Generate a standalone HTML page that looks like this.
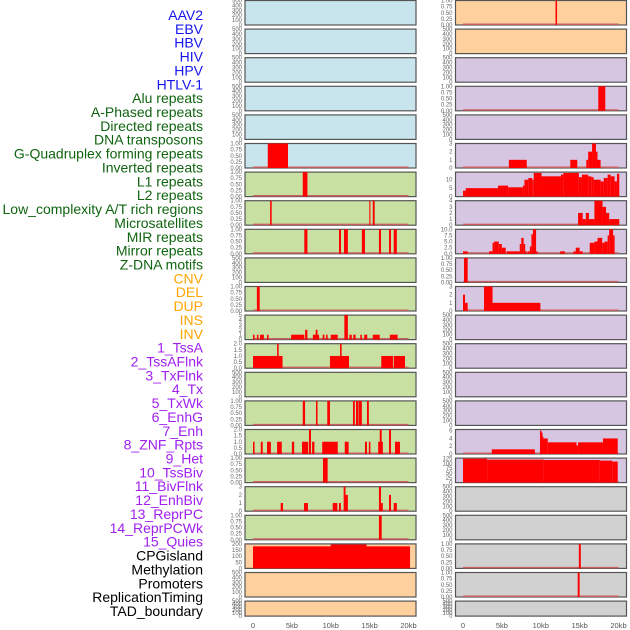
<!DOCTYPE html>
<html><head><meta charset="utf-8">
<style>
html,body{margin:0;padding:0;background:#fff;}
svg{display:block;font-family:"Liberation Sans",sans-serif;}
</style></head>
<body>
<svg id="chart" width="630" height="630" viewBox="0 0 630 630" xmlns="http://www.w3.org/2000/svg"></svg>
<script>
const labels = ["AAV2","EBV","HBV","HIV","HPV","HTLV-1","Alu repeats","A-Phased repeats","Directed repeats","DNA transposons","G-Quadruplex forming repeats","Inverted repeats","L1 repeats","L2 repeats","Low_complexity A/T rich regions","Microsatellites","MIR repeats","Mirror repeats","Z-DNA motifs","CNV","DEL","DUP","INS","INV","1_TssA","2_TssAFlnk","3_TxFlnk","4_Tx","5_TxWk","6_EnhG","7_Enh","8_ZNF_Rpts","9_Het","10_TssBiv","11_BivFlnk","12_EnhBiv","13_ReprPC","14_ReprPCWk","15_Quies","CPGisland","Methylation","Promoters","ReplicationTiming","TAD_boundary"];
const labelGroups = ["v","v","v","v","v","v","r","r","r","r","r","r","r","r","r","r","r","r","r","c","c","c","c","c","h","h","h","h","h","h","h","h","h","h","h","h","h","h","h","o","o","o","o","o"];
const xTickValues = [0,5,10,15,20];
const xTickLabels = ["0","5kb","10kb","15kb","20kb"];

const tick500 = [0,100,200,300,400,500];
const tick1 = [0,0.25,0.5,0.75,1];
const tick2 = [0,0.5,1,1.5,2];
const tick3 = [0,1,2,3];
const tick4 = [0,1,2,3,4];
const tick5 = [0,1,2,3,4,5];
const tick6 = [0,2,4,6];
const tick10 = [0,2.5,5,7.5,10];
const tick14 = [0,5,10];
const tick125 = [0,25,50,75,100,125];
const tick200 = [0,50,100,150,200];

// segments: [startKb, endKb, value]
const segGQuad = [[1.9,4.5,1]];
const segL1 = [[6.4,7.0,1]];
const segLowComplexity = [[2.2,2.4,1],[14.96,15.1,1],[15.4,15.65,1]];
const segMIR = [[6.6,7.0,1],[11.06,11.32,1],[11.7,12.2,1],[14.0,14.4,1],[16.2,16.46,1],[17.5,17.75,1],[18.1,18.5,1]];
const segDEL = [[0.5,0.86,1]];
const segINS = [[0,0.2,1],[0.5,0.7,1],[0.9,1.4,1],[1.8,2.0,1],[4.9,6.3,1],[6.3,6.6,1],[6.7,7.0,2],[7.7,8.5,1],[8.06,8.3,2],[8.96,9.2,1],[9.4,9.6,1],[10.0,10.9,1],[11.75,12.2,5],[12.4,12.7,1],[12.9,13.2,1],[13.8,14.0,1],[14.3,14.7,1],[15.4,16.3,1],[17.6,18.6,1]];
const segTssA = [[0,3.8,1],[3.1,3.3,2],[9.9,12.35,1],[11.2,11.4,2],[16.5,18.0,1],[18.1,19.55,1]];
const segTxWk = [[6.4,6.7,1],[8.1,8.3,1],[9.55,9.9,1],[12.86,13.1,1],[13.25,13.55,1],[13.6,14.0,1],[14.66,14.9,1]];
const segEnh = [[0,0.2,1],[1.0,1.25,1],[1.8,2.3,1],[3.1,3.7,1],[5.0,5.3,1],[6.3,7.1,1],[7.2,7.46,2],[7.6,7.9,1],[8.9,10.9,1],[11.8,12.3,1],[14.4,14.66,1],[14.9,15.1,1],[16.1,16.7,1],[16.3,16.55,2],[17.5,17.75,2],[18.26,18.9,1]];
const segHet = [[9.0,9.6,1]];
const segBivFlnk = [[3.56,3.86,1],[6.56,7.07,1],[10.25,10.85,1],[11.06,11.3,1],[11.66,11.9,3],[11.9,12.2,2],[16.2,16.46,3],[16.46,16.7,1],[17.5,17.75,2],[18.1,18.5,1]];
const segReprPC = [[16.2,16.55,1]];
const segQuies = [[0,20.2,180],[10.0,14.6,195]];

const segEBV = [[11.9,12.1,1]];
const segAPhased = [[17.4,18.3,1]];
const segInverted = [[5.9,8.2,1],[13.8,14.7,1],[15.86,16.1,1],[16.1,16.6,2],[16.6,17.1,3],[17.1,17.3,2],[17.3,17.7,1]];
const segL2 = [[0,0.35,3.5],[0.35,4.5,5],[4.5,5.8,6.5],[5.8,7.7,5.5],[7.7,7.9,6.5],[7.9,8.4,10],[8.4,8.9,11],[8.9,9.1,10],[9.1,10.1,14],[10.1,12.6,12],[12.6,12.9,13],[12.9,14.9,14],[14.9,15.3,11.5],[15.3,16.1,13],[16.1,16.5,12],[16.5,16.8,11.5],[16.8,17.7,10],[17.7,18.1,9],[18.1,18.6,11],[18.6,19.0,13],[19.0,19.5,12],[19.5,19.8,9],[19.8,20.1,13.5]];
const segMicrosat = [[14.8,15.4,2],[15.4,15.8,1],[15.8,16.2,2],[16.2,16.9,1],[16.9,17.95,4],[17.95,18.4,3],[18.4,18.8,2],[18.8,20.1,1]];
const segMirror = [[0,0.6,1],[3.35,3.8,1],[3.8,4.0,4.5],[4.0,4.6,5],[4.6,5.0,4],[5.0,5.5,2.5],[5.6,7.3,1],[7.3,7.5,4],[7.5,7.8,6.5],[7.8,8.0,4],[8.0,8.2,1],[8.3,8.6,1],[8.6,8.8,3],[8.8,9.0,8],[9.0,9.4,10],[9.4,9.6,1],[12.5,13.1,1],[14.2,14.5,1],[14.5,15.0,2.5],[15.0,15.4,1],[16.3,16.9,4.5],[16.9,17.3,5],[17.3,17.9,6.5],[17.9,18.2,4.5],[18.2,18.6,5],[18.6,18.8,7.5],[18.8,19.3,10],[19.3,19.5,7.5]];
const segCNV = [[0.13,0.6,1]];
const segDUP = [[0,0.26,2],[0.26,0.6,1],[2.7,3.8,3],[3.8,9.95,1]];
const segZNF = [[3.7,9.25,1.2],[9.9,10.1,6],[10.1,10.2,5.5],[10.2,10.3,4.5],[10.3,10.9,4],[10.9,14.6,3],[14.6,14.8,2.2],[14.8,18.0,3],[18.0,19.9,4]];
const segTssBiv = [[0,3.1,125],[3.1,10.4,120],[10.4,17.6,118],[17.6,19.2,115],[19.2,19.9,110]];
const segCPG = [[14.9,15.15,1]];
const segPromoters = [[14.75,15.0,1]];

const leftNames = ["AAV2","HBV","HPV","Alu repeats","Directed repeats","G-Quadruplex forming repeats","L1 repeats","Low_complexity A/T rich regions","MIR repeats","Z-DNA motifs","DEL","INS","1_TssA","3_TxFlnk","5_TxWk","7_Enh","9_Het","11_BivFlnk","13_ReprPC","15_Quies","Methylation","ReplicationTiming"];
const leftBg = ["b","b","b","b","b","b","g","g","g","g","g","g","g","g","g","g","g","g","g","o","o","o"];
const leftYmax = [500,500,500,500,500,1,1,1,1,500,1,5,2,500,1,2,1,3,1,200,500,500];
const leftTicks = [tick500,tick500,tick500,tick500,tick500,tick1,tick1,tick1,tick1,tick500,tick1,tick5,tick2,tick500,tick1,tick2,tick1,tick3,tick1,tick200,tick500,tick500];
const leftSegs = [[],[],[],[],[],segGQuad,segL1,segLowComplexity,segMIR,[],segDEL,segINS,segTssA,[],segTxWk,segEnh,segHet,segBivFlnk,segReprPC,segQuies,[],[]];

const rightNames = ["EBV","HIV","HTLV-1","A-Phased repeats","DNA transposons","Inverted repeats","L2 repeats","Microsatellites","Mirror repeats","CNV","DUP","INV","2_TssAFlnk","4_Tx","6_EnhG","8_ZNF_Rpts","10_TssBiv","12_EnhBiv","14_ReprPCWk","CPGisland","Promoters","TAD_boundary"];
const rightBg = ["o","o","p","p","p","p","p","p","p","p","p","p","p","p","p","p","p","y","y","y","y","y"];
const rightYmax = [1,500,500,1,500,3,14.5,4,10,1,3,500,500,500,500,6.3,128,500,500,1,1,500];
const rightTicks = [tick1,tick500,tick500,tick1,tick500,tick3,tick14,tick4,tick10,tick1,tick3,tick500,tick500,tick500,tick500,tick6,tick125,tick500,tick500,tick1,tick1,tick500];
const rightSegs = [segEBV,[],[],segAPhased,[],segInverted,segL2,segMicrosat,segMirror,segCNV,segDUP,[],[],[],[],segZNF,segTssBiv,[],[],segCPG,segPromoters,[]];

const NS = "http://www.w3.org/2000/svg";
const svg = document.getElementById("chart");
const bgColors = {b:"#c8e4ec", g:"#c8e1a3", o:"#fed09e", p:"#d6c6e2", y:"#d1d1d1"};
const groupColors = {v:"#1515ee", r:"#106410", c:"#ffa500", h:"#a020f0", o:"#000000"};
const KBPX = 7.775;
function panelTop(k){ return 0.5 + 28.6*k; }
function panelH(k){ return k===21 ? 15 : 24.5; }
function xScale(col, kb){ return (col===0 ? 253 : 463) + kb*KBPX; }
function yScale(k, v, ymax){ return panelTop(k) + panelH(k) - (v/ymax)*panelH(k); }
function mk(tag, attrs){ const e = document.createElementNS(NS, tag); for (const a in attrs) e.setAttribute(a, attrs[a]); return e; }
function fmt(t, ticks){
  const st = ticks[1]-ticks[0];
  if (st === 0.25) return t.toFixed(2);
  if (st === 0.5 || st === 2.5) return t.toFixed(1);
  return String(t);
}

// row labels
labels.forEach((lab, i) => {
  const t = mk("text", {x:203, y:15 + i*13.86 + 5, "text-anchor":"end", "font-size":"14", fill:groupColors[labelGroups[i]]});
  t.textContent = lab;
  
  
  svg.appendChild(t);
});

function drawColumn(col, names, bg, ymaxArr, ticksArr, segsArr){
  const x0 = col===0 ? 245 : 455.5;
  const w = 171;
  names.forEach((nm, k) => {
    const g = mk("g", {});
    
    
    const top = panelTop(k), h = panelH(k), ymax = ymaxArr[k];
    const r = mk("rect", {x:x0, y:top, width:w, height:h, fill:bgColors[bg[k]], stroke:"#555", "stroke-width":"1.2"});
    
    
    g.appendChild(r);
    const segs = segsArr[k];
    if (segs.length){
      const bl = mk("line", {x1:xScale(col,0), x2:xScale(col,20), y1:top+h-0.8, y2:top+h-0.8, stroke:"#c86060", "stroke-width":"1.5"});
      
      
      g.appendChild(bl);
    }
    segs.forEach(s => {
      const xa = xScale(col, s[0]), xb = xScale(col, s[1]);
      const yt = Math.max(top, yScale(k, s[2], ymax));
      const b = mk("rect", {x:xa, y:yt, width:Math.max(1, xb-xa), height:top+h-yt, fill:"#ff0000"});
      
      
      g.appendChild(b);
    });
    ticksArr[k].forEach(t => {
      const tt = mk("text", {x:x0-3, y:yScale(k, t, ymax)+2, "text-anchor":"end", "font-size":"6", fill:"#666"});
      tt.textContent = fmt(t, ticksArr[k]);
      
      
      g.appendChild(tt);
    });
    svg.appendChild(g);
  });
  xTickValues.forEach((v, i) => {
    const t = mk("text", {x:xScale(col, v), y:628, "text-anchor":"middle", "font-size":"7.5", fill:"#555"});
    t.textContent = xTickLabels[i];
    
    
    svg.appendChild(t);
  });
}
drawColumn(0, leftNames, leftBg, leftYmax, leftTicks, leftSegs);
drawColumn(1, rightNames, rightBg, rightYmax, rightTicks, rightSegs);
</script>
</body></html>
